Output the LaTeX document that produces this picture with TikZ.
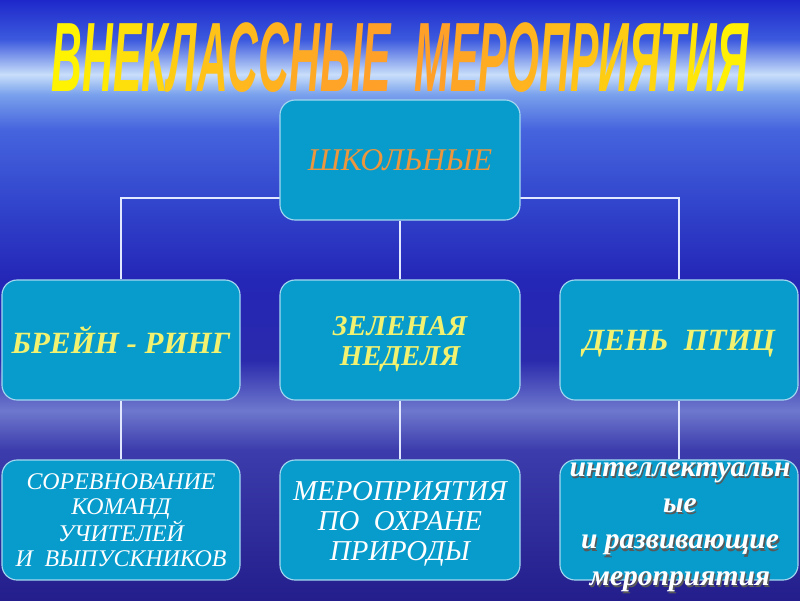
\documentclass[tikz,border=0pt]{standalone}
\usepackage{fontspec}
\usepackage{graphicx}
\setmainfont{Liberation Serif}
\newfontfamily\titlefont{Liberation Sans}
\usetikzlibrary{backgrounds}
\definecolor{boxFill}{RGB}{8,156,204}
\definecolor{boxEdge}{RGB}{165,215,240}
\definecolor{headOrange}{RGB}{236,150,62}
\definecolor{nameYellow}{RGB}{242,242,112}
\definecolor{titleYellow}{RGB}{255,248,0}
\definecolor{titleOrange}{RGB}{255,150,45}
\definecolor{linkWhite}{RGB}{225,232,255}
\definecolor{skyA}{RGB}{35,30,140}
\definecolor{skyB}{RGB}{60,60,172}
\definecolor{skyC}{RGB}{110,120,205}
\definecolor{skyD}{RGB}{42,42,172}
\definecolor{skyE}{RGB}{36,38,182}
\definecolor{skyF}{RGB}{50,70,205}
\definecolor{skyG}{RGB}{70,100,222}
\definecolor{skyH}{RGB}{120,160,236}
\definecolor{skyI}{RGB}{200,222,250}
\definecolor{skyJ}{RGB}{60,90,222}
\definecolor{skyK}{RGB}{30,40,202}
\pgfdeclareverticalshading{skyShade}{100bp}{%
  color(0bp)=(skyA); color(25bp)=(skyA); color(37.5bp)=(skyB);
  color(40.8bp)=(skyC); color(45bp)=(skyD); color(51.7bp)=(skyE);
  color(58.3bp)=(skyF); color(64.2bp)=(skyG); color(67.1bp)=(skyH);
  color(68.8bp)=(skyI); color(71.7bp)=(skyJ); color(75bp)=(skyK);
  color(100bp)=(skyK)}
% one letter of the heading, #1 = share of orange
\newcommand\headch[2]{\textcolor{titleOrange!#1!titleYellow}{#2}}
% a line of text with a dark shadow under it
\newcommand\shline[1]{\rlap{\kern1pt\raisebox{-1.5pt}{\textcolor{black!65}{#1}}}#1}
% pushes a block of lines a little down in its box
\newcommand\topgap{\rule{0pt}{0.95em}}

\begin{document}
\begin{tikzpicture}[x=0.025cm,y=-0.025cm,
  box/.style={rectangle,rounded corners=0.38cm,fill=boxFill,draw=boxEdge,
    line width=0.8pt,minimum width=5.95cm,minimum height=3cm,
    align=center,inner sep=0pt},
  link/.style={draw=linkWhite,line width=1.5pt},
  midtext/.style={text=nameYellow,font=\fontsize{22}{21.3}\selectfont\bfseries\itshape},
  lowtext/.style={text=white,font=\itshape}]
 \useasboundingbox (0,0) rectangle (800,600);

 % heading
 \node[font=\titlefont\bfseries\itshape,inner sep=0pt] (title) at (400,58)
   {\resizebox{17.4cm}{1.72cm}{\headch{5}{В}\headch{15}{Н}\headch{25}{Е}%
    \headch{35}{К}\headch{45}{Л}\headch{55}{А}\headch{65}{С}\headch{72}{С}%
    \headch{80}{Н}\headch{86}{Ы}\headch{90}{Е}\ \ \headch{90}{М}\headch{85}{Е}%
    \headch{78}{Р}\headch{70}{О}\headch{62}{П}\headch{54}{Р}\headch{45}{И}%
    \headch{36}{Я}\headch{27}{Т}\headch{18}{И}\headch{8}{Я}}};

 % boxes
 \node[box,minimum width=6cm,text=headOrange,font=\fontsize{22.5}{24}\selectfont\itshape]
   (school) at (400,160) {ШКОЛЬНЫЕ};
 \node[box,midtext] (brain) at (121,340) {БРЕЙН - РИНГ};
 \node[box,midtext,minimum width=6cm,font=\fontsize{20.5}{21.3}\selectfont\bfseries\itshape]
   (week) at (400,340) {\topgap ЗЕЛЕНАЯ\\НЕДЕЛЯ};
 \node[box,midtext,text depth=0pt] (birds) at (679,340) {ДЕНЬ\ \ ПТИЦ};
 \node[box,lowtext,font=\fontsize{17}{17.8}\selectfont\itshape]
   (contest) at (121,520) {СОРЕВНОВАНИЕ\\КОМАНД\\УЧИТЕЛЕЙ\\И\ \ ВЫПУСКНИКОВ};
 \node[box,lowtext,minimum width=6cm,font=\fontsize{20.5}{21.3}\selectfont\itshape]
   (nature) at (400,520) {\topgap МЕРОПРИЯТИЯ\\ПО\ \ ОХРАНЕ\\ПРИРОДЫ};
 \node[box] (clever) at (679,520) {};
 \node[text=white,align=center,font=\fontsize{21}{25.8}\selectfont\bfseries\itshape]
   (clevertext) at (680,528)
   {\shline{интеллектуальн}\\\shline{ые}\\\shline{и развивающие}\\\shline{мероприятия}};

 \coordinate (bar) at (400,198);
 \begin{pgfonlayer}{background}
  \shade[shading=skyShade] (0,0) rectangle (800,600);
  \draw[link] (brain.north) |- (bar) -| (birds.north);
  \draw[link] (school.south) -- (week.north);
  \draw[link] (brain.south) -- (contest.north);
  \draw[link] (week.south) -- (nature.north);
  \draw[link] (birds.south) -- (clever.north);
 \end{pgfonlayer}
\end{tikzpicture}
\end{document}
